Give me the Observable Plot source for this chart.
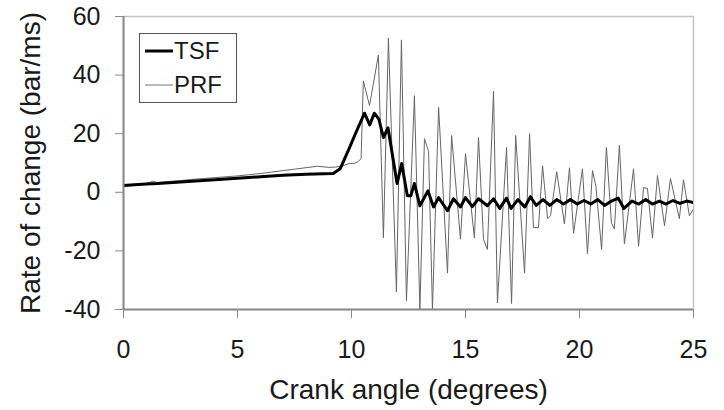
<!DOCTYPE html>
<html>
<head>
<meta charset="utf-8">
<script src="https://cdn.jsdelivr.net/npm/d3@7"></script>
<script src="https://cdn.jsdelivr.net/npm/@observablehq/plot@0.6"></script>
<style>
  html, body { margin: 0; padding: 0; background: #fff; }
  #wrap { position: relative; width: 724px; height: 410px; font-family: "Liberation Sans", Arial, sans-serif; }
  #legend { position: absolute; left: 139px; top: 33px; width: 98px; height: 70px; border: 1px solid #555; background: #fff; box-sizing: border-box; }
  #legend .row { position: absolute; left: 5px; display: flex; align-items: center; font-size: 24px; line-height: 26px; color: #1a1a1a; }
  #legend svg { display: block; margin-right: 1px; }
</style>
</head>
<body>
<div id="wrap"><div id="chart"></div>
<div id="legend">
  <div class="row" style="top:4px"><svg width="28" height="10"><line x1="0" x2="28" y1="5" y2="5" stroke="#000" stroke-width="3"/></svg><span>TSF</span></div>
  <div class="row" style="top:38px"><svg width="28" height="10"><line x1="0" x2="28" y1="5" y2="5" stroke="#777" stroke-width="1"/></svg><span>PRF</span></div>
</div>
</div>
<script>
// PRF series (thin grey): crank angle (deg), rate of change (bar/ms)
const prfAngle = [0,0.5,1.0,1.3,1.5,2.0,2.5,3.0,3.5,4.0,4.5,5.0,5.5,6.0,6.5,7.0,7.5,8.0,8.5,9.0,9.3,9.6,9.9,10.1,10.3,10.42,
  10.52,10.79,11.18,11.4,11.62,11.97,12.19,12.41,12.76,13.0,13.2,13.38,13.55,13.82,14.21,14.39,14.78,15.0,15.39,15.57,15.79,15.96,
  16.23,16.4,16.8,17.02,17.2,17.59,17.81,17.98,18.2,18.38,18.6,18.73,19.0,19.34,19.56,19.74,20.13,20.35,20.57,20.72,20.97,21.18,
  21.4,21.53,21.75,21.97,22.37,22.59,22.81,22.98,23.2,23.42,23.73,23.99,24.38,24.56,24.82,25.0];
const prfValue = [2.5,2.8,3.0,3.8,3.3,3.7,4.0,4.4,4.7,5.0,5.3,5.6,6.0,6.4,6.9,7.4,7.9,8.4,8.9,8.5,8.6,9.0,9.8,9.8,10.5,11.5,
  38,29.6,46.8,-15.5,52.6,-34,52,-37,33,-40,18.3,14,-40,29,-27.6,19.4,-16,13.2,-15.6,18.7,-16,-19.5,
  34.5,-37.8,15.3,-38,19.4,-27.6,20,-12,-12,9,-9,-8,7,-10.8,8.4,-14,8,-21,7.4,2,-19.5,15.3,
  -10.4,-12.5,16,-17.6,8,-18.4,1.6,1.3,-15.6,5.7,-11.4,4.7,-9,4.3,-8,-5.7];

// TSF series (thick black)
const tsfAngle = [0,1,1.5,2,3,4,5,6,7,8,9.2,9.5,9.9,10.2,10.57,10.8,11.0,11.2,11.4,11.6,12.0,12.2,12.45,12.6,12.76,13.0,
  13.35,13.6,13.82,14.21,14.47,14.78,15.0,15.3,15.57,15.96,16.23,16.5,16.8,17.0,17.3,17.6,17.85,18.1,18.4,18.7,19.0,19.3,
  19.6,19.9,20.2,20.5,20.8,21.1,21.4,21.7,21.95,22.3,22.6,22.9,23.2,23.5,23.8,24.1,24.4,24.7,25.0];
const tsfValue = [2.3,2.8,3.0,3.3,3.8,4.3,4.8,5.3,5.8,6.2,6.4,8,15,20.5,27,23,27,25,18.7,22,3,9.8,-1.2,-1.2,3,-4.6,
  0.5,-5,-1.8,-6.3,-2.2,-5,-1.8,-4.9,-2.2,-4.6,-2.2,-5.5,-2,-5.5,-2.5,-5,-1.5,-4.5,-2.5,-4.5,-2.5,-4,
  -2.5,-4,-2.8,-4,-2.5,-4.5,-3,-2,-5.5,-3,-4,-2.5,-4,-3,-4,-2.8,-3.8,-3,-3.5];

const xTicks = [0,5,10,15,20,25];
const yTicks = [-40,-20,0,20,40,60];

const prf = prfAngle.map((a,i) => ({angle: a, value: prfValue[i]}));
const tsf = tsfAngle.map((a,i) => ({angle: a, value: tsfValue[i]}));

const chart = Plot.plot({
  width: 724,
  height: 410,
  marginLeft: 123,
  marginRight: 31,
  marginTop: 16,
  marginBottom: 101,
  style: {fontFamily: "'Liberation Sans', Arial, sans-serif", fontSize: "25px", color: "#1a1a1a", background: "#fff"},
  x: {domain: [0, 25]},
  y: {domain: [-40, 60]},
  marks: [
    Plot.frame({stroke: "#c4c4c4", strokeWidth: 1.5}),
    Plot.line(prf, {x: "angle", y: "value", stroke: "#666", strokeWidth: 1, clip: true}),
    Plot.line(tsf, {x: "angle", y: "value", stroke: "#000", strokeWidth: 3, clip: true}),
    Plot.ruleX([0], {stroke: "#8a8a8a", strokeWidth: 2}),
    Plot.ruleY([-40], {stroke: "#8a8a8a", strokeWidth: 2}),
    Plot.axisX({ticks: xTicks, tickSize: 9, tickPadding: 22, stroke: "#8a8a8a", fontSize: 25,
      tickFormat: d => String(d),
      label: null}),
    Plot.axisX({ticks: [], label: "Crank angle (degrees)", labelAnchor: "center", labelArrow: false,
      labelOffset: 89, fontSize: 28, tickSize: 0}),
    Plot.axisY({ticks: yTicks, tickSize: 8, tickPadding: 15, stroke: "#8a8a8a", fontSize: 25,
      tickFormat: d => String(d), label: null}),
    Plot.axisY({ticks: [], label: "Rate of change (bar/ms)", labelAnchor: "center", labelArrow: false,
      labelOffset: 103, fontSize: 28, tickSize: 0})
  ]
});
document.getElementById("chart").appendChild(chart);
</script>
</body>
</html>
